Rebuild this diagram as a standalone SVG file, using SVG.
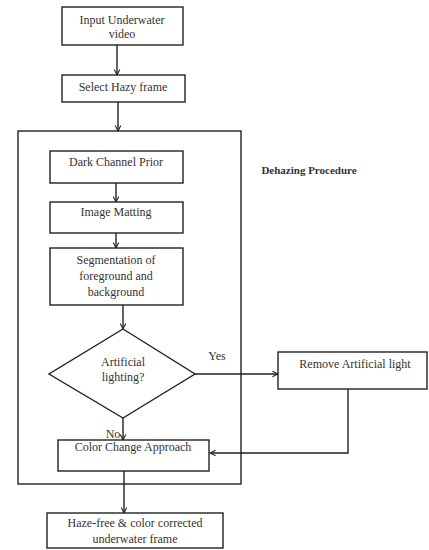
<svg xmlns="http://www.w3.org/2000/svg" width="429" height="550" viewBox="0 0 429 550">
<defs>
<style>
.b{fill:#fff;stroke:#222;stroke-width:1.4}
.t{font-family:"Liberation Serif",serif;font-size:12px;fill:#333;text-anchor:middle}
.c{fill:none;stroke:#222;stroke-width:1.4}
</style>
<marker id="a" viewBox="0 0 10 10" refX="9" refY="5" markerWidth="7" markerHeight="7" orient="auto" markerUnits="userSpaceOnUse">
<path d="M1,1 L9,5 L1,9" fill="none" stroke="#222" stroke-width="1.5"/>
</marker>
</defs>
<rect width="429" height="550" fill="#fff"/>
<g id="dehazing">
<rect class="b" x="18" y="131" width="223" height="353" fill="none"/>
<text class="t" x="309" y="174" style="font-weight:bold;font-size:11px">Dehazing Procedure</text>
</g>
<g id="connectors">
<line class="c" x1="117" y1="45" x2="117" y2="75" marker-end="url(#a)"/>
<line class="c" x1="118" y1="102" x2="118" y2="131" marker-end="url(#a)"/>
<line class="c" x1="116" y1="183" x2="116" y2="202" marker-end="url(#a)"/>
<line class="c" x1="116" y1="233" x2="116" y2="248" marker-end="url(#a)"/>
<line class="c" x1="123" y1="305" x2="123" y2="329" marker-end="url(#a)"/>
<line class="c" x1="195" y1="374" x2="278" y2="374" marker-end="url(#a)"/>
<line class="c" x1="123" y1="418" x2="123" y2="440" marker-end="url(#a)"/>
<polyline class="c" points="348,389 348,453 210,453" marker-end="url(#a)"/>
<line class="c" x1="124" y1="471" x2="124" y2="513" marker-end="url(#a)"/>
<text class="t" x="217" y="360">Yes</text>
<text class="t" x="113" y="438">No</text>
</g>
<g id="input">
<rect class="b" x="62" y="7" width="121" height="38"/>
<text class="t" x="122" y="24">Input Underwater</text>
<text class="t" x="122" y="38">video</text>
</g>
<g id="select">
<rect class="b" x="62" y="75" width="123" height="27"/>
<text class="t" x="123" y="91">Select Hazy frame</text>
</g>
<g id="dark">
<rect class="b" x="50" y="151" width="133" height="32"/>
<text class="t" x="116" y="166">Dark Channel Prior</text>
</g>
<g id="matting">
<rect class="b" x="50" y="202" width="133" height="31"/>
<text class="t" x="116" y="216">Image Matting</text>
</g>
<g id="segmentation">
<rect class="b" x="50" y="248" width="133" height="57"/>
<text class="t" x="116" y="264">Segmentation of</text>
<text class="t" x="116" y="280">foreground and</text>
<text class="t" x="116" y="296">background</text>
</g>
<g id="decision">
<polygon class="b" points="123,329 195,374 123,418 49,374"/>
<text class="t" x="123" y="366">Artificial</text>
<text class="t" x="123" y="381">lighting?</text>
</g>
<g id="remove">
<rect class="b" x="278" y="352" width="149" height="37"/>
<text class="t" x="355" y="368">Remove Artificial light</text>
</g>
<g id="color">
<rect class="b" x="58" y="440" width="151" height="31"/>
<text class="t" x="133" y="451">Color Change Approach</text>
</g>
<g id="output">
<rect class="b" x="47" y="513" width="176" height="35"/>
<text class="t" x="135" y="527">Haze-free &amp; color corrected</text>
<text class="t" x="135" y="543">underwater frame</text>
</g>
</svg>
